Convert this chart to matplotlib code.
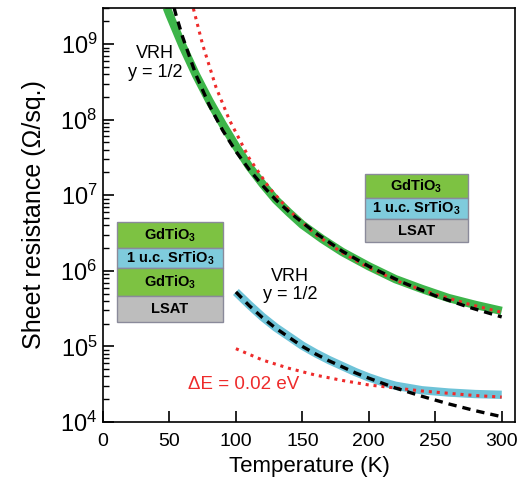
import matplotlib
matplotlib.use('Agg')

import numpy as np
import matplotlib.pyplot as plt
from matplotlib.patches import Rectangle

plt.rcParams['font.family'] = ['Liberation Sans', 'DejaVu Sans']
plt.rcParams['mathtext.fontset'] = 'custom'
plt.rcParams['mathtext.rm'] = 'Liberation Sans'
plt.rcParams['mathtext.bf'] = 'Liberation Sans:bold'

# ---------------- DATA ----------------
# GdTiO3 / 1 u.c. SrTiO3 / LSAT (green), log10 of sheet resistance
t_green = [48, 50, 60, 70, 80, 90, 100, 110, 120, 130, 140, 150, 165, 180, 200, 220, 240, 260, 280, 300]
logr_green = [9.48, 9.39, 8.97, 8.59, 8.25, 7.94, 7.65, 7.38, 7.15, 6.94, 6.77, 6.61, 6.42, 6.25,
              6.06, 5.89, 5.76, 5.64, 5.55, 5.47]

# VRH fit on green
t_green_vrh = [53.5, 55, 60, 70, 80, 90, 100, 110, 120, 130, 140, 160, 180, 200, 225, 250, 275, 300]
logr_green_vrh = [9.48, 9.38, 9.09, 8.59, 8.19, 7.86, 7.58, 7.34, 7.13, 6.94, 6.78, 6.50, 6.26,
                  6.06, 5.85, 5.67, 5.52, 5.39]

# thermally activated fit on green
t_green_act = [68, 75, 85, 95, 110, 125, 140, 160, 180, 200, 225, 250, 275, 300]
logr_green_act = [9.47, 8.99, 8.43, 8.00, 7.49, 7.10, 6.80, 6.48, 6.24, 6.04, 5.84, 5.69, 5.56, 5.45]

# GdTiO3 / 1 u.c. SrTiO3 / GdTiO3 / LSAT (blue)
t_blue = [100, 110, 120, 130, 140, 150, 160, 170, 180, 190, 200, 210, 220, 230, 240, 260, 280, 300]
logr_blue = [5.72, 5.55, 5.39, 5.25, 5.13, 5.01, 4.91, 4.82, 4.74, 4.66, 4.59, 4.53, 4.48, 4.45,
             4.42, 4.39, 4.37, 4.36]

# VRH fit on blue
t_blue_vrh = [100, 110, 120, 130, 140, 150, 160, 170, 180, 190, 200, 220, 240, 260, 280, 300]
logr_blue_vrh = [5.72, 5.54, 5.38, 5.24, 5.12, 5.00, 4.90, 4.81, 4.73, 4.65, 4.58, 4.45, 4.34,
                 4.24, 4.15, 4.07]

# activated fit on blue (dE = 0.02 eV)
t_blue_act = [100, 120, 140, 160, 180, 200, 220, 240, 260, 280, 300]
logr_blue_act = [4.97, 4.82, 4.71, 4.62, 4.55, 4.49, 4.45, 4.41, 4.38, 4.35, 4.33]

x_ticks = [0, 50, 100, 150, 200, 250, 300]
y_exponents = [4, 5, 6, 7, 8, 9]
# -------------------------------------------------------------

W, H = 528, 491
fig = plt.figure(figsize=(W / 100, H / 100), dpi=100)
ax = fig.add_axes([103 / W, 1 - 422 / H, 412 / W, 414 / H])

green = '#3db54a'
blue = '#6ec3d8'
red = '#ee2b2b'
dots = (0, (1, 1.6))
dashes = (0, (2.5, 1.8))

ax.plot(t_green, 10 ** np.array(logr_green), color=green, lw=6, solid_capstyle='butt')
ax.plot(t_blue, 10 ** np.array(logr_blue), color=blue, lw=6, solid_capstyle='butt')
ax.plot(t_green_act, 10 ** np.array(logr_green_act), color=red, lw=2.2, linestyle=dots)
ax.plot(t_blue_act, 10 ** np.array(logr_blue_act), color=red, lw=2.2, linestyle=dots)
ax.plot(t_green_vrh, 10 ** np.array(logr_green_vrh), color='black', lw=2.4, linestyle=dashes)
ax.plot(t_blue_vrh, 10 ** np.array(logr_blue_vrh), color='black', lw=2.4, linestyle=dashes)

ax.set_yscale('log')
ax.set_xlim(0, 310)
ax.set_ylim(1e4, 3e9)
ax.set_xticks(x_ticks)
ax.set_xticklabels([str(v) for v in x_ticks])
ax.set_yticks([10.0 ** e for e in y_exponents])
ax.set_yticklabels(['$\\mathregular{10^{%d}}$' % e for e in y_exponents])

ax.tick_params(axis='both', which='major', direction='in', length=8, width=1.2,
               top=False, right=False)
ax.tick_params(axis='x', labelsize=14, pad=8)
ax.tick_params(axis='y', labelsize=17, pad=4)
ax.tick_params(axis='y', which='minor', direction='in', length=4, width=1, right=False)
for s in ax.spines.values():
    s.set_linewidth(1.2)

ax.set_xlabel('Temperature (K)', fontsize=16, labelpad=4)
ax.set_ylabel('Sheet resistance (\u03a9/sq.)', fontsize=18, labelpad=10)

ax.text(39, 5.6e8, 'VRH\ny = 1/2', fontsize=13, ha='center', va='center', linespacing=1.15)
ax.text(141, 6.4e5, 'VRH\ny = 1/2', fontsize=13, ha='center', va='center', linespacing=1.15)
ax.text(106, 3.1e4, '\u0394E = 0.02 eV', fontsize=13.5, ha='center', va='center', color=red)


# layer stacks drawn in pixel coordinates of the figure
def stack(x0, x1, edges, layers):
    for (y0, y1), (label, col) in zip(zip(edges[:-1], edges[1:]), layers):
        fig.patches.append(Rectangle((x0 / W, 1 - y1 / H), (x1 - x0) / W, (y1 - y0) / H,
                                     transform=fig.transFigure, facecolor=col,
                                     edgecolor='#8a8a9a', lw=1))
        fig.text((x0 + x1) / 2 / W, 1 - (y0 + y1) / 2 / H, label, ha='center', va='center',
                 fontsize=10.5, fontweight='bold')


box_green = '#7dc242'
box_blue = '#7fcbdc'
box_gray = '#bdbdbd'

stack(117, 223, [222, 248, 268, 296, 322],
      [('GdTiO$_\\mathbf{3}$', box_green), ('1 u.c. SrTiO$_\\mathbf{3}$', box_blue),
       ('GdTiO$_\\mathbf{3}$', box_green), ('LSAT', box_gray)])
stack(365, 468, [174, 198, 219, 242],
      [('GdTiO$_\\mathbf{3}$', box_green), ('1 u.c. SrTiO$_\\mathbf{3}$', box_blue),
       ('LSAT', box_gray)])

fig.savefig('out.png', dpi=100)
